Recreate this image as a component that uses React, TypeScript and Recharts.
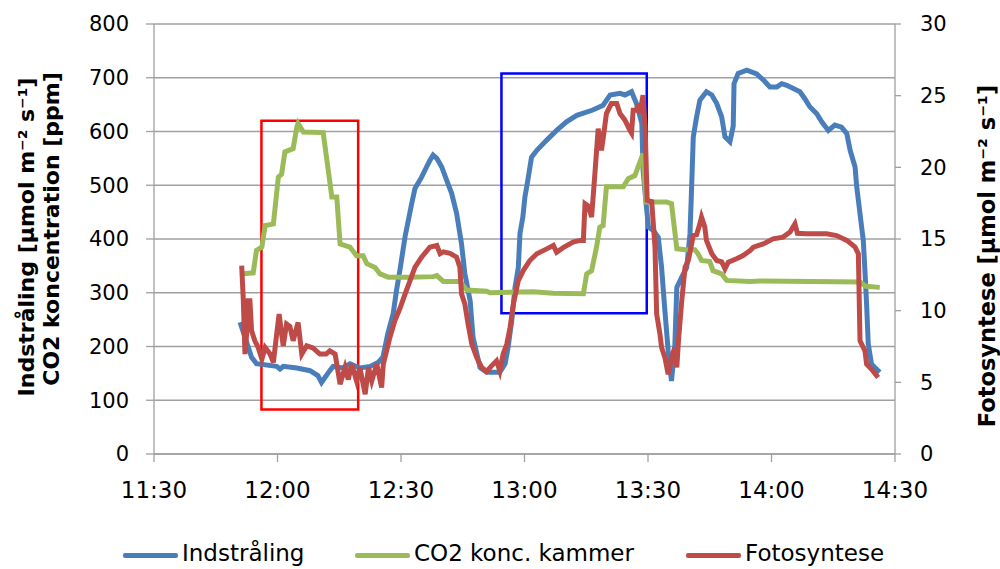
import React from 'react';
import { LineChart, Line, XAxis, YAxis, CartesianGrid, Legend, ReferenceArea } from 'recharts';

// minutter efter 11:30
const indstralingTid = [20.9, 23.7, 24.9, 29.8, 30.6, 31.4, 34.7, 37.9, 39.8, 40.7, 42.7, 43.5, 45.9, 47.6, 50.0, 52.5, 54.4, 55.6, 56.8, 58.1, 58.9, 59.8, 61.0, 62.6, 63.4, 65.0, 66.2, 67.0, 67.8, 68.7, 69.9, 71.1, 72.3, 73.5, 74.7, 75.5, 76.8, 77.5, 79.2, 80.8, 84.0, 85.3, 86.0, 86.9, 87.7, 88.5, 88.9, 89.6, 90.1, 90.8, 91.7, 93.0, 95.4, 97.8, 100.2, 102.7, 106.6, 109.1, 110.8, 113.2, 114.4, 116.0, 117.2, 118.5, 118.8, 119.3, 120.1, 121.3, 122.5, 123.3, 124.1, 124.9, 125.7, 126.5, 127.0, 128.2, 129.4, 130.2, 130.6, 131.0, 131.8, 132.6, 134.2, 135.5, 136.7, 137.9, 138.7, 139.9, 140.7, 140.9, 141.9, 144.0, 146.4, 148.0, 149.6, 151.3, 152.5, 153.7, 155.3, 156.9, 158.1, 159.3, 161.0, 162.2, 163.8, 165.4, 167.0, 168.3, 169.1, 170.3, 170.7, 171.5, 172.3, 172.7, 173.1, 173.5, 174.3, 176.3];
const indstralingVaerdi = [245, 180, 168, 163, 158, 163, 160, 155, 146, 133, 155, 163, 160, 168, 160, 163, 170, 180, 224, 261, 304, 345, 405, 466, 494, 515, 534, 546, 556, 550, 534, 509, 485, 448, 391, 336, 285, 217, 161, 152, 152, 168, 198, 248, 310, 347, 410, 441, 478, 509, 552, 565, 584, 602, 618, 630, 640, 649, 668, 671, 668, 674, 652, 615, 528, 485, 422, 416, 403, 347, 267, 192, 136, 198, 310, 329, 347, 410, 497, 590, 627, 658, 674, 668, 652, 627, 590, 581, 610, 689, 708, 714, 707, 696, 683, 683, 689, 686, 680, 674, 661, 646, 633, 618, 602, 612, 608, 596, 565, 534, 497, 447, 397, 341, 279, 205, 167, 152];

const co2Tid = [20.9, 24.1, 24.9, 26.2, 27.0, 29.0, 30.2, 31.0, 31.8, 33.8, 34.7, 35.0, 36.3, 41.1, 43.2, 44.4, 45.2, 47.6, 49.2, 50.8, 51.7, 53.7, 54.9, 56.9, 62.2, 67.8, 68.7, 70.3, 74.3, 76.0, 80.8, 81.6, 92.1, 97.0, 104.3, 105.1, 106.3, 107.5, 108.3, 109.1, 109.9, 114.0, 115.2, 116.8, 117.6, 118.8, 119.5, 124.5, 125.7, 127.0, 129.0, 131.4, 132.2, 133.0, 135.0, 135.8, 137.9, 139.1, 144.8, 147.2, 171.5, 172.9, 176.3];
const co2Vaerdi = [335, 337, 379, 385, 425, 428, 515, 521, 562, 568, 608, 615, 599, 598, 478, 478, 391, 385, 369, 369, 354, 347, 335, 329, 329, 330, 332, 321, 321, 305, 303, 300, 302, 299, 298, 335, 341, 385, 422, 425, 497, 497, 512, 518, 534, 559, 469, 469, 466, 382, 380, 380, 372, 360, 358, 341, 335, 323, 321, 322, 320, 312, 310];

const fotosynteseTid = [21.3, 21.7, 22.1, 22.5, 22.9, 23.3, 23.7, 24.5, 25.3, 26.2, 27.0, 28.2, 29.0, 29.8, 30.4, 31.0, 31.4, 32.2, 33.0, 33.8, 35.0, 35.9, 37.1, 38.6, 40.3, 41.8, 42.7, 44.0, 45.2, 46.4, 47.2, 48.0, 49.2, 50.0, 51.3, 52.1, 52.9, 54.1, 55.3, 55.7, 56.5, 57.3, 58.5, 59.8, 61.0, 62.2, 63.4, 65.0, 67.0, 68.7, 69.5, 70.3, 71.9, 73.5, 74.3, 74.7, 75.5, 76.3, 77.2, 78.4, 79.6, 80.8, 82.0, 83.2, 84.0, 84.8, 85.7, 86.5, 87.3, 88.5, 89.7, 91.3, 93.0, 95.4, 97.0, 97.8, 99.4, 101.8, 103.5, 104.3, 104.7, 105.5, 106.3, 107.1, 107.9, 108.7, 109.1, 109.9, 111.1, 112.4, 113.2, 114.4, 115.6, 116.0, 116.4, 117.2, 117.6, 118.0, 118.8, 119.3, 119.8, 120.9, 121.7, 122.1, 122.9, 123.3, 124.1, 124.9, 125.7, 126.5, 127.0, 127.4, 128.2, 129.0, 129.8, 131.0, 131.8, 132.6, 133.0, 133.8, 134.2, 135.5, 136.7, 137.9, 138.7, 139.5, 141.5, 143.1, 144.8, 145.6, 148.0, 150.4, 152.8, 154.5, 155.7, 156.3, 158.5, 161.0, 163.4, 165.8, 168.3, 170.3, 171.1, 171.5, 172.7, 173.1, 174.3, 175.9];
const fotosynteseVaerdi = [13.15, 10.7, 6.97, 8.37, 10.7, 10.7, 8.6, 7.9, 7.43, 6.62, 7.43, 6.97, 6.39, 8.37, 9.77, 8.37, 7.55, 9.07, 8.9, 7.9, 9.18, 6.97, 7.55, 7.4, 6.97, 6.97, 7.2, 6.97, 4.87, 6.04, 5.2, 6.27, 5.1, 6.04, 4.17, 6.04, 5.1, 6.27, 4.64, 6.27, 7.2, 8.13, 9.3, 10.2, 11.17, 12.1, 13.03, 13.73, 14.43, 14.55, 13.97, 14.1, 14.0, 13.73, 13.03, 11.17, 10.47, 9.07, 7.67, 6.73, 6.04, 5.76, 6.15, 6.5, 5.8, 6.97, 7.67, 8.83, 10.47, 12.1, 12.8, 13.5, 13.97, 14.31, 14.55, 14.08, 14.4, 14.78, 14.9, 14.9, 17.46, 17.3, 16.53, 19.56, 22.7, 21.19, 22.0, 23.75, 24.45, 24.45, 23.75, 23.29, 22.59, 22.4, 23.99, 23.99, 24.45, 23.75, 25.03, 22.82, 17.69, 17.6, 14.43, 9.77, 8.37, 7.43, 6.73, 5.57, 6.73, 7.43, 6.04, 7.9, 10.7, 13.03, 13.5, 15.24, 15.3, 16.06, 16.53, 15.83, 14.9, 13.97, 13.5, 13.4, 12.92, 13.38, 13.62, 13.85, 14.2, 14.43, 14.66, 15.01, 15.13, 15.48, 16.06, 15.4, 15.36, 15.36, 15.36, 15.24, 14.9, 14.43, 13.97, 7.9, 7.2, 6.27, 5.92, 5.34];

const xTicks = [0, 30, 60, 90, 120, 150, 180];
const xTickLabels = ['11:30', '12:00', '12:30', '13:00', '13:30', '14:00', '14:30'];
const venstreTicks = [0, 100, 200, 300, 400, 500, 600, 700, 800];
const hoejreTicks = [0, 5, 10, 15, 20, 25, 30];

// markeringer (rammer) i aksens enheder
const rammeFra = [26.1, 84.4];
const rammeTil = [49.6, 119.7];
const rammeBund = [83, 262];
const rammeTop = [620, 708];
const rammeFarve = ['#ff0000', '#0000ff'];

const serier = [
  { navn: 'Indstråling', farve: '#4a7ebb' },
  { navn: 'CO2 konc. kammer', farve: '#9bbb59' },
  { navn: 'Fotosyntese', farve: '#be4b48' },
];

const toPoints = (tid: number[], vaerdi: number[]) => tid.map((t, i) => ({ t, v: vaerdi[i] }));

const indstralingData = toPoints(indstralingTid, indstralingVaerdi);
const co2Data = toPoints(co2Tid, co2Vaerdi);
const fotosynteseData = toPoints(fotosynteseTid, fotosynteseVaerdi);

const FONT = '"DejaVu Sans", Verdana, sans-serif';
const AXIS = '#a0a0a0';

const VenstreTitel = (props: any) => {
  const { viewBox } = props;
  const cy = viewBox.y + viewBox.height / 2;
  const x1 = 26;
  const x2 = 51;
  return (
    <g fontFamily={FONT} fontWeight="bold" fontSize={22} fill="#000">
      <text x={x1} y={cy - 2} transform={`rotate(-90, ${x1}, ${cy - 2})`} textAnchor="middle" dominantBaseline="central">
        Indstråling [µmol m⁻² s⁻¹]
      </text>
      <text x={x2} y={cy - 10} transform={`rotate(-90, ${x2}, ${cy - 10})`} textAnchor="middle" dominantBaseline="central">
        CO2 koncentration [ppm]
      </text>
    </g>
  );
};

const HoejreTitel = (props: any) => {
  const { viewBox } = props;
  const cy = viewBox.y + viewBox.height / 2 + 17;
  const x = 987;
  return (
    <text x={x} y={cy} transform={`rotate(-90, ${x}, ${cy})`} textAnchor="middle" dominantBaseline="central"
      fontFamily={FONT} fontWeight="bold" fontSize={22.5} fill="#000">
      Fotosyntese [µmol m⁻² s⁻¹]
    </text>
  );
};

const Forklaring = () => (
  <div style={{ position: 'relative', height: 30, fontFamily: FONT, fontSize: 23, color: '#000' }}>
    {serier.map((s, i) => (
      <div key={s.navn} style={{ position: 'absolute', left: [123, 355, 686][i], top: 0, display: 'flex', alignItems: 'center', whiteSpace: 'nowrap', lineHeight: '28px' }}>
        <span style={{ display: 'inline-block', width: 55, height: 5, borderRadius: 2, background: s.farve, marginRight: 4, marginTop: 4 }} />
        <span>{s.navn}</span>
      </div>
    ))}
  </div>
);

export default function App() {
  return (
    <div style={{ position: 'absolute', left: 0, top: 0, width: 1000, height: 569, background: '#fff', overflow: 'hidden' }}>
      <LineChart width={1000} height={569} margin={{ top: 24, right: 0, bottom: 0, left: 0 }}>
        <CartesianGrid yAxisId="left" horizontal vertical={false} stroke={AXIS} strokeWidth={1.3} />
        <XAxis
          type="number"
          dataKey="t"
          domain={[0, 180]}
          ticks={xTicks}
          tickFormatter={(v: number) => xTickLabels[xTicks.indexOf(v)]}
          height={85}
          stroke={AXIS}
          strokeWidth={1.3}
          tickSize={8}
          tickMargin={20}
          tick={{ fill: '#000', fontSize: 23, fontFamily: FONT }}
          allowDataOverflow
        />
        <YAxis
          yAxisId="left"
          domain={[0, 800]}
          ticks={venstreTicks}
          width={154}
          stroke={AXIS}
          strokeWidth={1.3}
          tickSize={8}
          tickMargin={17}
          tick={{ fill: '#000', fontSize: 21, fontFamily: FONT }}
          label={VenstreTitel}
        />
        <YAxis
          yAxisId="right"
          orientation="right"
          domain={[0, 30]}
          ticks={hoejreTicks}
          width={105}
          stroke={AXIS}
          strokeWidth={1.3}
          tickSize={6}
          tickMargin={19}
          tick={{ fill: '#000', fontSize: 21, fontFamily: FONT }}
          label={HoejreTitel}
        />
        <Legend verticalAlign="bottom" content={Forklaring} wrapperStyle={{ left: 0, width: 1000 }} />
        <Line yAxisId="left" data={indstralingData} dataKey="v" name={serier[0].navn} stroke={serier[0].farve} strokeWidth={5} dot={false} type="linear" isAnimationActive={false} />
        <Line yAxisId="left" data={co2Data} dataKey="v" name={serier[1].navn} stroke={serier[1].farve} strokeWidth={5} dot={false} type="linear" isAnimationActive={false} />
        <Line yAxisId="right" data={fotosynteseData} dataKey="v" name={serier[2].navn} stroke={serier[2].farve} strokeWidth={5} dot={false} type="linear" isAnimationActive={false} />
        {rammeFra.map((x1, i) => (
          <ReferenceArea key={i} yAxisId="left" x1={x1} x2={rammeTil[i]} y1={rammeBund[i]} y2={rammeTop[i]} fill="none" fillOpacity={0} stroke={rammeFarve[i]} strokeWidth={2.5} ifOverflow="visible" />
        ))}
      </LineChart>
    </div>
  );
}
